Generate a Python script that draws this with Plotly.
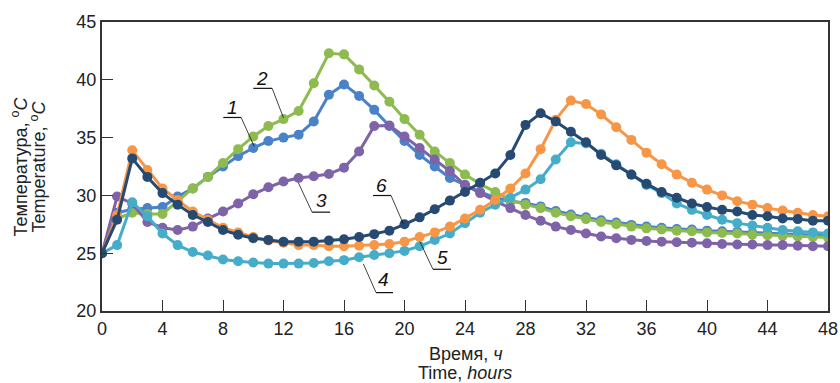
import plotly.graph_objects as go

hours = list(range(49))

s1 = [25.0, 28.5, 28.8, 28.9, 29.0, 29.9, 30.6, 31.6, 32.5, 33.4, 34.1, 34.7, 35.0, 35.25, 36.4,
      38.7, 39.6, 38.6, 37.4, 36.0, 34.7, 33.5, 32.5, 31.5, 30.9, 30.3, 29.8, 29.5, 29.35, 29.05,
      28.65, 28.35, 28.1, 27.85, 27.65, 27.45, 27.3, 27.2, 27.1, 27.05, 26.95, 26.9, 26.85, 26.75,
      26.7, 26.65, 26.6, 26.55, 26.5]
s2 = [25.0, 28.0, 28.5, 28.4, 28.4, 29.5, 30.6, 31.6, 32.8, 34.0, 35.1, 36.0, 36.6, 37.3, 39.7,
      42.3, 42.2, 40.9, 39.5, 38.1, 36.6, 35.25, 33.8, 32.8, 31.8, 31.0, 30.3, 29.6, 29.2, 28.9,
      28.5, 28.2, 27.95, 27.7, 27.5, 27.3, 27.15, 27.05, 26.95, 26.9, 26.8, 26.75, 26.7, 26.6,
      26.55, 26.5, 26.45, 26.4, 26.35]
s3 = [25.0, 29.9, 29.3, 27.7, 27.2, 27.0, 27.3, 28.0, 28.6, 29.3, 30.1, 30.7, 31.2, 31.5, 31.65,
      31.85, 32.4, 33.8, 36.0, 36.05, 35.1, 34.1, 33.1, 32.1, 30.9, 30.2, 29.5, 28.9, 28.3, 27.8,
      27.3, 27.0, 26.7, 26.45, 26.3, 26.15, 26.05, 26.0, 25.95, 25.9, 25.85, 25.8, 25.75, 25.75,
      25.7, 25.7, 25.65, 25.6, 25.6]
s4 = [25.0, 25.7, 29.4, 28.2, 26.7, 25.7, 25.1, 24.8, 24.45, 24.3, 24.2, 24.1, 24.1, 24.1, 24.15,
      24.3, 24.4, 24.65, 24.85, 25.0, 25.2, 25.6, 26.15, 26.7, 27.6, 28.5, 29.2, 29.8, 30.5, 31.4,
      33.1, 34.6, 34.5, 33.6, 32.7, 31.8, 30.9, 30.2, 29.3, 28.75, 28.3, 27.9, 27.6, 27.4, 27.2,
      27.0, 26.9, 26.8, 26.7]
s5 = [25.0, 28.3, 33.9, 32.2, 30.6, 29.6, 28.6, 27.9, 27.2, 26.8, 26.4, 26.1, 25.9, 25.7, 25.7,
      25.6, 25.6, 25.65, 25.7, 25.8, 26.0, 26.4, 26.8, 27.3, 28.0, 28.75, 29.6, 30.6, 31.9, 34.0,
      36.55, 38.2, 37.9, 37.0, 35.9, 34.8, 33.7, 32.7, 31.8, 31.1, 30.5, 30.0, 29.5, 29.2, 28.9,
      28.7, 28.5, 28.3, 28.2]
s6 = [25.0, 27.9, 33.2, 31.6, 30.2, 29.2, 28.3, 27.7, 27.0, 26.6, 26.3, 26.15, 26.0, 26.0, 26.0,
      26.1, 26.2, 26.4, 26.65, 26.95, 27.5, 28.1, 28.8, 29.55, 30.3, 31.1, 31.9, 33.5, 36.1, 37.1,
      36.4, 35.5, 34.6, 33.5, 32.6, 31.8, 31.0, 30.3, 29.8, 29.3, 29.0, 28.75, 28.6, 28.3, 28.2,
      28.0, 27.95, 27.8, 27.8]

series = [s1, s2, s3, s4, s5, s6]
names = ["1", "2", "3", "4", "5", "6"]
colors = ["#4a82c8", "#8dbb4f", "#7f63a8", "#45adc9", "#f79646", "#264a72"]

x_ticks = list(range(0, 49, 4))
y_ticks = [20, 25, 30, 35, 40, 45]

FONT = "Liberation Sans, Arial, sans-serif"

fig = go.Figure()
for ys, nm, c in zip(series, names, colors):
    fig.add_trace(go.Scatter(
        x=hours, y=ys, name=nm, mode="lines+markers",
        line=dict(color=c, width=3),
        marker=dict(color=c, size=10, symbol="circle"),
        showlegend=False,
    ))

# Curve labels: (text, text pos, underline x0, x1, y, leader start, leader end)
labels = [
    ("1", 8.61, 37.6, 8.02, 9.20, 36.74, 9.20, 36.74, 10.06, 34.24),
    ("2", 10.6, 40.1, 10.0, 11.25, 39.26, 11.25, 39.26, 12.0, 36.7),
    ("3", 14.5, 29.6, 13.89, 15.08, 28.55, 13.89, 28.55, 12.99, 31.07),
    ("6", 18.5, 30.9, 17.92, 19.11, 29.99, 19.11, 29.99, 19.92, 27.54),
    ("5", 22.5, 24.6, 21.88, 23.07, 23.61, 21.88, 23.61, 21.02, 26.0),
    ("4", 18.6, 22.7, 18.12, 19.24, 21.59, 18.12, 21.59, 17.28, 24.07),
]
shapes = []
annotations = []
for t, tx, ty, ux0, ux1, uy, lx0, ly0, lx1, ly1 in labels:
    annotations.append(dict(x=tx, y=ty, xref="x", yref="y", text="<i>%s</i>" % t,
                            showarrow=False, font=dict(family=FONT, size=19, color="#111")))
    shapes.append(dict(type="line", xref="x", yref="y", x0=ux0, x1=ux1, y0=uy, y1=uy,
                       line=dict(color="#111", width=1.2)))
    shapes.append(dict(type="line", xref="x", yref="y", x0=lx0, x1=lx1, y0=ly0, y1=ly1,
                       line=dict(color="#111", width=0.8)))

TF = dict(family=FONT, size=18, color="#222")
annotations += [
    dict(x=-0.113, y=0.5, xref="paper", yref="paper", textangle=-90,
         text="Температура, <sup>o</sup><i>C</i>", showarrow=False, font=TF,
         xanchor="center", yanchor="middle"),
    dict(x=-0.088, y=0.5, xref="paper", yref="paper", textangle=-90,
         text="Temperature, <sup>o</sup><i>C</i>", showarrow=False, font=TF,
         xanchor="center", yanchor="middle"),
    dict(x=0.5, y=-0.149, xref="paper", yref="paper", text="Время, <i>ч</i>",
         showarrow=False, font=TF, xanchor="center", yanchor="middle"),
    dict(x=0.5, y=-0.215, xref="paper", yref="paper", text="Time, <i>hours</i>",
         showarrow=False, font=TF, xanchor="center", yanchor="middle"),
]

fig.update_layout(
    width=840, height=383,
    margin=dict(l=102, r=12, t=22, b=72, autoexpand=False),
    paper_bgcolor="white", plot_bgcolor="white",
    font=dict(family=FONT, size=18, color="#222"),
    shapes=shapes, annotations=annotations,
)
fig.update_xaxes(range=[0, 48], tickvals=x_ticks, ticks="inside", ticklen=11, tickwidth=1.2,
                 tickcolor="#333", showline=True, linecolor="#333", linewidth=2, mirror=True,
                 showgrid=False, zeroline=False, tickfont=dict(size=18, family=FONT))
fig.update_yaxes(range=[20, 45], tickvals=y_ticks, ticks="inside", ticklen=11, tickwidth=1.2,
                 tickcolor="#333", showline=True, linecolor="#333", linewidth=2, mirror=True,
                 showgrid=False, zeroline=False, tickfont=dict(size=18, family=FONT))

fig.write_html("out.html", config={"displayModeBar": False},
               post_script="document.body.style.margin='0';")
